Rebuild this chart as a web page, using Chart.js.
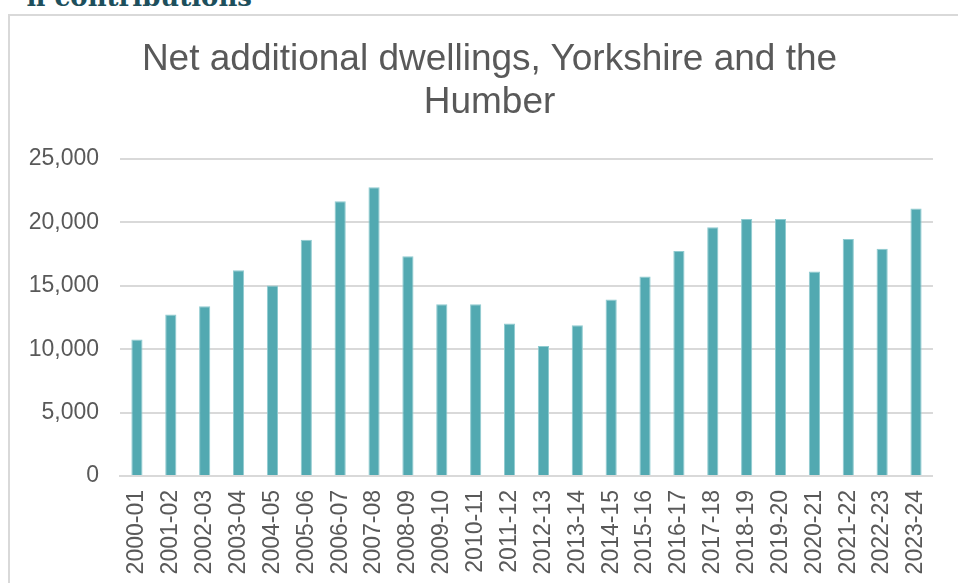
<!DOCTYPE html>
<html>
<head>
<meta charset="utf-8">
<script src="https://cdn.jsdelivr.net/npm/chart.js@4/dist/chart.umd.min.js"></script>
<style>
  html, body { margin: 0; padding: 0; background: #fff; overflow: hidden; }
  body { width: 958px; height: 583px; position: relative; }
  #heading {
    position: absolute; right: 706px; top: -18px; line-height: 26px;
    font: bold 26px "DejaVu Serif", "Liberation Serif", serif;
    color: #1d4f5c; white-space: nowrap; text-align: right;
  }
  #frame {
    position: absolute; left: 8px; top: 14px; width: 1000px; height: 600px;
    border: 2px solid #d9d9d9; box-sizing: border-box;
  }
  #title {
    position: absolute; left: 0; top: 36px; width: 979px;
    font: 37px "Liberation Sans", Arial, sans-serif; line-height: 43px;
    color: #595959; text-align: center; white-space: nowrap;
  }
  #wrap { position: absolute; left: 0; top: 0; width: 958px; height: 583px; }
</style>
</head>
<body>
<div id="heading">n contributions</div>
<div id="frame"></div>
<div id="wrap"><canvas id="chart"></canvas></div>
<div id="title"></div>
<script>
// === Data ===
const years = [
  "2000-01", "2001-02", "2002-03", "2003-04", "2004-05", "2005-06",
  "2006-07", "2007-08", "2008-09", "2009-10", "2010-11", "2011-12",
  "2012-13", "2013-14", "2014-15", "2015-16", "2016-17", "2017-18",
  "2018-19", "2019-20", "2020-21", "2021-22", "2022-23", "2023-24",
];
const dwellings = [
  10760, 12730, 13380, 16220, 15020, 18640,
  21660, 22770, 17330, 13540, 13540, 12020,
  10250, 11890, 13910, 15730, 17740, 19610,
  20270, 20270, 16120, 18690, 17930, 21090,
];
const yTicks = [0, 5000, 10000, 15000, 20000, 25000];
const titleLines = ["Net additional dwellings, Yorkshire and the", "Humber"];

const textColor = "#595959";
const gridColor = "#d9d9d9";
const barColor = "#52a9b1";
const fontFamily = "'Liberation Sans', Arial, sans-serif";

// Title as real text above the chart
const titleElem = document.getElementById("title");
titleLines.forEach((line, i) => {
  if (i > 0) titleElem.appendChild(document.createElement("br"));
  titleElem.appendChild(document.createTextNode(line));
});

const ctx = document.getElementById("chart").getContext("2d");
new Chart(ctx, {
  type: "bar",
  data: {
    labels: years,
    datasets: [
      {
        label: "Net additional dwellings",
        data: dwellings,
        backgroundColor: barColor,
        borderColor: "#8fcbd0",
        borderWidth: { left: 1, right: 1, top: 1, bottom: 0 },
        barPercentage: 0.33,
        categoryPercentage: 1,
      },
    ],
  },
  options: {
    responsive: true,
    maintainAspectRatio: false,
    animation: false,
    layout: { padding: { left: 10, right: 18, top: 159, bottom: 0 } },
    plugins: {
      legend: { display: false },
      tooltip: { enabled: false },
      title: { display: false },
    },
    scales: {
      x: {
        grid: { display: false, drawTicks: false },
        border: { display: true, color: gridColor, width: 2 },
        ticks: {
          color: textColor,
          font: { family: fontFamily, size: 23 },
          minRotation: 90,
          maxRotation: 90,
          autoSkip: false,
          padding: 14,
        },
        afterFit(scale) {
          scale.height = 107;
        },
      },
      y: {
        min: 0,
        max: 25000,
        afterBuildTicks(scale) {
          scale.ticks = yTicks.map((v) => ({ value: v }));
        },
        grid: { color: gridColor, lineWidth: 2, drawTicks: false },
        border: { display: false },
        ticks: {
          color: textColor,
          font: { family: fontFamily, size: 23 },
          padding: 21,
          callback: (v) => v.toLocaleString("en-US"),
        },
        afterFit(scale) {
          scale.width = 110;
        },
      },
    },
  },
});
</script>
</body>
</html>
